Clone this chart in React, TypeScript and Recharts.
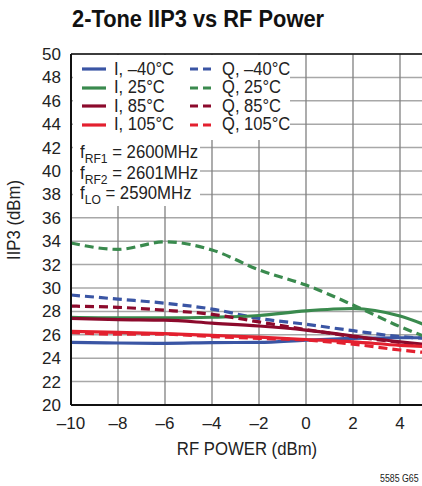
import { LineChart, Line, XAxis, YAxis, CartesianGrid, ReferenceLine } from "recharts"

const FONT = '"Liberation Sans", Arial, sans-serif'

const rfPower = [-10, -8, -6, -4, -2, 0, 2, 4, 5]
const iM40 = [25.35, 25.3, 25.27, 25.33, 25.35, 25.55, 25.7, 25.75, 25.75]
const i25 = [27.5, 27.45, 27.45, 27.5, 27.65, 28.05, 28.25, 27.6, 26.9]
const i85 = [27.4, 27.3, 27.25, 27.0, 26.75, 26.4, 25.9, 25.4, 25.2]
const i105 = [26.3, 26.2, 26.1, 25.95, 25.8, 25.6, 25.4, 25.1, 25.0]
const qM40 = [29.4, 29.05, 28.7, 28.2, 27.4, 26.9, 26.35, 25.85, 25.7]
const q25 = [33.85, 33.3, 33.95, 33.25, 31.55, 30.25, 28.55, 26.7, 25.9]
const q85 = [28.45, 28.35, 28.1, 27.75, 27.1, 26.45, 25.85, 25.35, 25.1]
const q105 = [26.2, 26.05, 26.05, 25.85, 25.7, 25.55, 25.2, 24.7, 24.5]

const xTicks = [-10, -8, -6, -4, -2, 0, 2, 4]
const yTicks = [20, 22, 24, 26, 28, 30, 32, 34, 36, 38, 40, 42, 44, 46, 48, 50]

const series = [
  { key: "iM40", name: "I, –40°C", values: iM40, color: "#3a55a4", dashed: false },
  { key: "qM40", name: "Q, –40°C", values: qM40, color: "#3a55a4", dashed: true },
  { key: "i25", name: "I, 25°C", values: i25, color: "#3a8a4e", dashed: false },
  { key: "q25", name: "Q, 25°C", values: q25, color: "#3a8a4e", dashed: true },
  { key: "i85", name: "I, 85°C", values: i85, color: "#8c0a2c", dashed: false },
  { key: "q85", name: "Q, 85°C", values: q85, color: "#8c0a2c", dashed: true },
  { key: "i105", name: "I, 105°C", values: i105, color: "#e3202f", dashed: false },
  { key: "q105", name: "Q, 105°C", values: q105, color: "#e3202f", dashed: true },
]

const freqNotes = [
  { sub: "RF1", value: "2600MHz" },
  { sub: "RF2", value: "2601MHz" },
  { sub: "LO", value: "2590MHz" },
]

const data = rfPower.map((x, i) => {
  const row: Record<string, number> = { x }
  series.forEach((s) => (row[s.key] = s.values[i]))
  return row
})

const fmt = (v: number) => (v < 0 ? "–" + Math.abs(v) : String(v))

// squeeze Arial a bit to get the condensed Helvetica look
const Narrow = ({ k, children }: { k: number; children: React.ReactNode }) => (
  <span style={{ display: "inline-block", transform: `scaleX(${k})`, transformOrigin: "left center", whiteSpace: "nowrap" }}>
    {children}
  </span>
)

const Swatch = ({ color, dashed }: { color: string; dashed: boolean }) => (
  <svg width={24} height={6} style={{ marginRight: 8, flex: "none" }}>
    <line x1={0} y1={3} x2={24} y2={3} stroke={color} strokeWidth={3.2} strokeDasharray={dashed ? "8 5" : undefined} />
  </svg>
)

export default function App() {
  return (
    <div style={{ position: "absolute", left: 0, top: 0, width: 422, height: 486, overflow: "hidden", background: "#fff", fontFamily: FONT }}>
      <div style={{ position: "absolute", left: 72, top: 5, fontSize: 24, fontWeight: "bold", color: "#111", whiteSpace: "nowrap" }}>
        <Narrow k={0.91}>2-Tone IIP3 vs RF Power</Narrow>
      </div>
      <LineChart width={430} height={486} data={data} margin={{ top: 54, right: 6.5, left: 0, bottom: 0 }}>
        <CartesianGrid vertical={false} stroke="#a8a8a8" strokeWidth={1.5} />
        <CartesianGrid horizontal={false} stroke="#808080" strokeWidth={1.3} />
        <XAxis
          dataKey="x"
          type="number"
          domain={[-10, 5]}
          ticks={xTicks}
          tickFormatter={fmt}
          height={81}
          tickSize={0}
          tickMargin={12}
          axisLine={{ stroke: "#111", strokeWidth: 2 }}
          tick={{ fill: "#222", fontSize: 17, fontFamily: FONT }}
        />
        <YAxis
          type="number"
          domain={[20, 50]}
          ticks={yTicks}
          width={71}
          tickSize={0}
          tickMargin={10}
          interval={0}
          axisLine={{ stroke: "#111", strokeWidth: 2 }}
          tick={{ fill: "#222", fontSize: 17, fontFamily: FONT }}
        />
        <ReferenceLine y={50} stroke="#111" strokeWidth={1.5} />
        {series.map((s) => (
          <Line
            key={s.key}
            dataKey={s.key}
            type="monotone"
            stroke={s.color}
            strokeWidth={3.2}
            strokeDasharray={s.dashed ? "9 5" : undefined}
            dot={false}
            isAnimationActive={false}
          />
        ))}
      </LineChart>
      <div style={{ position: "absolute", left: 73, top: 55, width: 217, height: 85, background: "#fff" }}>
        <div style={{ display: "grid", gridTemplateColumns: "108px 100px", paddingLeft: 9, paddingTop: 5 }}>
          {series.map((s) => (
            <div key={s.key} style={{ display: "flex", alignItems: "center", height: 18.5, fontSize: 18, color: "#222", whiteSpace: "nowrap" }}>
              <Swatch color={s.color} dashed={s.dashed} />
              <Narrow k={0.92}>{s.name}</Narrow>
            </div>
          ))}
        </div>
      </div>
      <div style={{ position: "absolute", left: 73, top: 140, width: 127, height: 66, background: "#fff", fontSize: 18, color: "#222", paddingLeft: 7, paddingTop: 2, boxSizing: "border-box", lineHeight: "20.5px", whiteSpace: "nowrap" }}>
        {freqNotes.map((f) => (
          <div key={f.sub}>
            <Narrow k={0.93}>
              f<sub style={{ fontSize: 13, lineHeight: 0 }}>{f.sub}</sub> = {f.value}
            </Narrow>
          </div>
        ))}
      </div>
      <div style={{ position: "absolute", left: 247, top: 438, transform: "translateX(-50%) scaleX(0.88)", fontSize: 19, color: "#222", whiteSpace: "nowrap" }}>
        RF POWER (dBm)
      </div>
      <div style={{ position: "absolute", left: 14, top: 220, transform: "translate(-50%, -50%) rotate(-90deg) scaleX(0.88)", fontSize: 19, color: "#222", whiteSpace: "nowrap" }}>
        IIP3 (dBm)
      </div>
      <div style={{ position: "absolute", left: 380, top: 472, fontSize: 11, color: "#222", whiteSpace: "nowrap" }}>
        <Narrow k={0.8}>5585 G65</Narrow>
      </div>
    </div>
  )
}
